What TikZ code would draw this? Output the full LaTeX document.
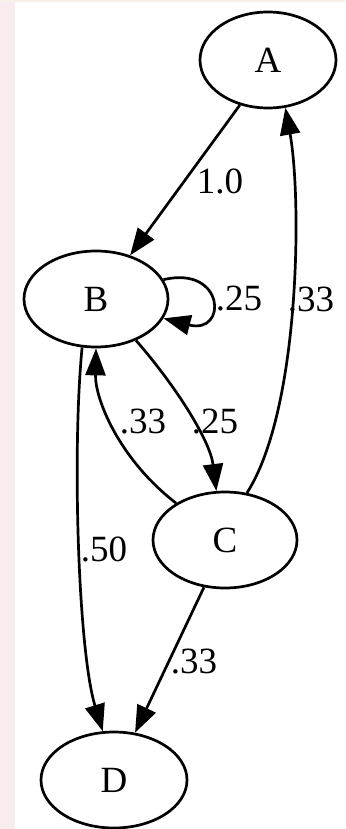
\documentclass[tikz,border=0pt]{standalone}
\usepackage{fontspec}
\setmainfont{Liberation Serif}
\usetikzlibrary{arrows.meta,shapes.geometric}
\definecolor{stripcol}{RGB}{249,236,239}
\definecolor{topcol}{RGB}{247,240,232}
\begin{document}
\begin{tikzpicture}[x=1pt,y=-1pt,
  st/.style={draw,ellipse,line width=2.7pt,minimum width=144pt,minimum height=96pt,inner sep=0pt,font=\fontsize{37}{40}\selectfont},
  ed/.style={line width=2.7pt,-{Triangle[length=27pt,width=20pt]}},
  lb/.style={font=\fontsize{37}{40}\selectfont,inner sep=0pt}]
\useasboundingbox (0,0) rectangle (345,829);
\fill[white] (0,0) rectangle (345,829);
\fill[stripcol] (0,0) rectangle (15,829);
\fill[topcol] (0,0) rectangle (345,2);
\node[st,minimum width=136pt] (A) at (268,60) {A};
\node[st] (B) at (96,299) {B};
\node[st] (C) at (225,540) {C};
\node[st,minimum width=146pt] (D) at (114,780) {D};
\draw[ed] (A.238) -- (B.52);
\node[lb] (l1) at (220,181) {1.0};
\draw[ed] (C.65) .. controls (300,410) and (302,200) .. (A.290);
\node[lb] (l2) at (311,300) {.33};
\draw[ed] (B.16) .. controls (225,265) and (228,335) .. (B.344);
\node[lb] (l3) at (239,299) {.25};
\draw[ed] (B.314) .. controls (175,385) and (210,440) .. (C.100);
\node[lb] (l4) at (215,422) {.25};
\draw[ed] (C.143) .. controls (120,460) and (95,400) .. (B.270);
\node[lb] (l5) at (143,422) {.33};
\draw[ed] (B.254) .. controls (72,450) and (78,650) .. (D.103);
\node[lb] (l6) at (104,549) {.50};
\draw[ed] (C.246) -- (D.66);
\node[lb] (l7) at (194,662) {.33};
\end{tikzpicture}
\end{document}
